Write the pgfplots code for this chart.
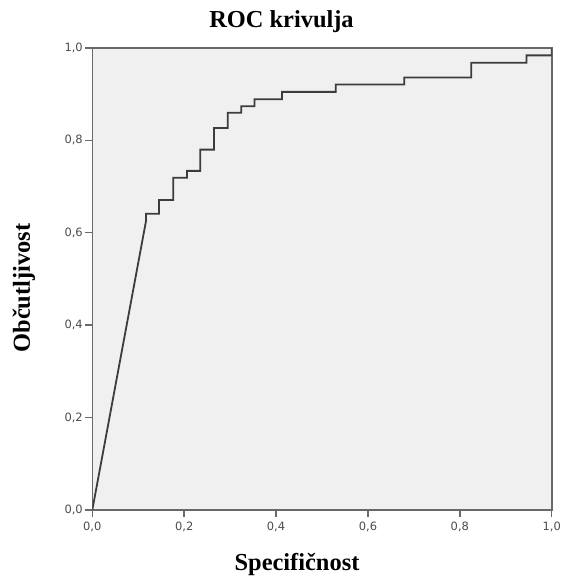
\documentclass[border=0pt]{standalone}
\usepackage{fontspec}
\setmainfont{Liberation Serif}
\newfontfamily\ticksans{DejaVu Sans}
\usepackage{pgfplots}
\pgfplotsset{compat=1.18}
\definecolor{panel}{RGB}{240,240,240}
\definecolor{frame}{RGB}{105,105,105}
\definecolor{curve}{RGB}{60,60,60}
\definecolor{ticktext}{RGB}{75,75,75}

\begin{document}
\begin{tikzpicture}[x=1bp,y=1bp]
\useasboundingbox (-92.3,-68) rectangle (468.7,510);
\begin{axis}[
    at={(0,0)}, anchor=south west,
    scale only axis, width=459.4bp, height=462bp,
    xmin=0, xmax=1, ymin=0, ymax=1,
    axis background/.style={fill=panel},
    axis line style={frame, line width=1.6bp},
    xtick={0,0.2,0.4,0.6,0.8,1}, ytick={0,0.2,0.4,0.6,0.8,1},
    xtick pos=lower, ytick pos=left,
    tick align=outside, major tick length=7bp,
    tick style={frame, line width=1.4bp},
    ticklabel style={font=\ticksans\fontsize{11.5}{12}\selectfont, text=ticktext},
    xticklabel style={yshift=-1.5bp},
    yticklabel style={xshift=1bp},
    /pgf/number format/.cd, fixed, fixed zerofill, precision=1, use comma,
    assume math mode=true,
]
\addplot[curve, line width=1.8bp] coordinates {
    (0,0) (0.117,0.626) (0.117,0.641) (0.145,0.641) (0.145,0.671)
    (0.176,0.671) (0.176,0.719) (0.206,0.719) (0.206,0.734)
    (0.235,0.734) (0.235,0.780) (0.265,0.780) (0.265,0.827)
    (0.295,0.827) (0.295,0.860) (0.324,0.860) (0.324,0.874)
    (0.353,0.874) (0.353,0.889) (0.413,0.889) (0.413,0.905)
    (0.530,0.905) (0.530,0.921) (0.679,0.921) (0.679,0.936)
    (0.825,0.936) (0.825,0.968) (0.945,0.968) (0.945,0.984)
    (1,0.984) (1,1)
};
\end{axis}
% title and axis labels
\node[anchor=base, font=\bfseries\fontsize{24.5}{26}\selectfont] at (189.2,482.3) {ROC krivulja};
\node[anchor=base, font=\bfseries\fontsize{24.5}{26}\selectfont] at (204.7,-60) {Specifičnost};
\node[anchor=base, rotate=90, font=\bfseries\fontsize{24.5}{26}\selectfont] at (-62.3,222) {Občutljivost};
\end{tikzpicture}
\end{document}
